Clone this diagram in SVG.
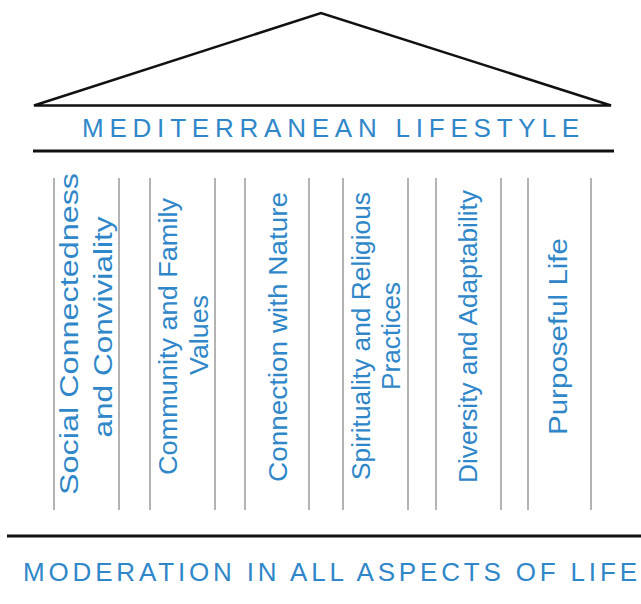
<svg xmlns="http://www.w3.org/2000/svg" width="641" height="604" viewBox="0 0 641 604">
<style>
.t{font-family:"Liberation Sans",Arial,sans-serif;fill:#2f87c9;}
.p{font-size:26px;text-anchor:middle;}
.h{font-size:26px;}
.g{stroke:#9a9a9a;stroke-width:1.5;fill:none;}
.k{stroke:#111;fill:none;}
</style>
<rect width="641" height="604" fill="#fff"/>
<g id="roof">
<polygon class="k" points="34,105.5 321,13 611,105.5" stroke-width="2.5" stroke-linejoin="miter"/>
<text class="t h" x="82" y="137" textLength="497" lengthAdjust="spacing">MEDITERRANEAN LIFESTYLE</text>
<line class="k" x1="33" y1="151" x2="614" y2="151" stroke-width="3"/>
</g>
<g id="columns">
<line class="g" x1="54" y1="178" x2="54" y2="510"/>
<line class="g" x1="119" y1="178" x2="119" y2="510"/>
<line class="g" x1="150" y1="178" x2="150" y2="510"/>
<line class="g" x1="215" y1="178" x2="215" y2="510"/>
<line class="g" x1="245" y1="178" x2="245" y2="510"/>
<line class="g" x1="309" y1="178" x2="309" y2="510"/>
<line class="g" x1="343" y1="178" x2="343" y2="510"/>
<line class="g" x1="408" y1="178" x2="408" y2="510"/>
<line class="g" x1="436" y1="178" x2="436" y2="510"/>
<line class="g" x1="501" y1="178" x2="501" y2="510"/>
<line class="g" x1="528" y1="178" x2="528" y2="510"/>
<line class="g" x1="591" y1="178" x2="591" y2="510"/>
</g>
<g id="pillar1">
<text class="t p" transform="translate(78,334) rotate(-90)" textLength="322" lengthAdjust="spacingAndGlyphs">Social Connectedness</text>
<text class="t p" transform="translate(112,327) rotate(-90)" textLength="221" lengthAdjust="spacingAndGlyphs">and Conviviality</text>
</g>
<g id="pillar2">
<text class="t p" transform="translate(177,336.5) rotate(-90)" textLength="277" lengthAdjust="spacingAndGlyphs">Community and Family</text>
<text class="t p" transform="translate(208,335) rotate(-90)" textLength="80" lengthAdjust="spacingAndGlyphs">Values</text>
</g>
<g id="pillar3">
<text class="t p" transform="translate(287,337) rotate(-90)" textLength="290" lengthAdjust="spacingAndGlyphs">Connection with Nature</text>
</g>
<g id="pillar4">
<text class="t p" transform="translate(370,336) rotate(-90)" textLength="288" lengthAdjust="spacingAndGlyphs">Spirituality and Religious</text>
<text class="t p" transform="translate(400,336) rotate(-90)" textLength="108" lengthAdjust="spacingAndGlyphs">Practices</text>
</g>
<g id="pillar5">
<text class="t p" transform="translate(477,336.5) rotate(-90)" textLength="293" lengthAdjust="spacingAndGlyphs">Diversity and Adaptability</text>
</g>
<g id="pillar6">
<text class="t p" transform="translate(567,336.5) rotate(-90)" textLength="197" lengthAdjust="spacingAndGlyphs">Purposeful Life</text>
</g>
<g id="base">
<line class="k" x1="7" y1="536" x2="641" y2="536" stroke-width="3"/>
<text class="t h" x="23" y="581" font-size="27" textLength="614" lengthAdjust="spacing">MODERATION IN ALL ASPECTS OF LIFE</text>
</g>
</svg>
